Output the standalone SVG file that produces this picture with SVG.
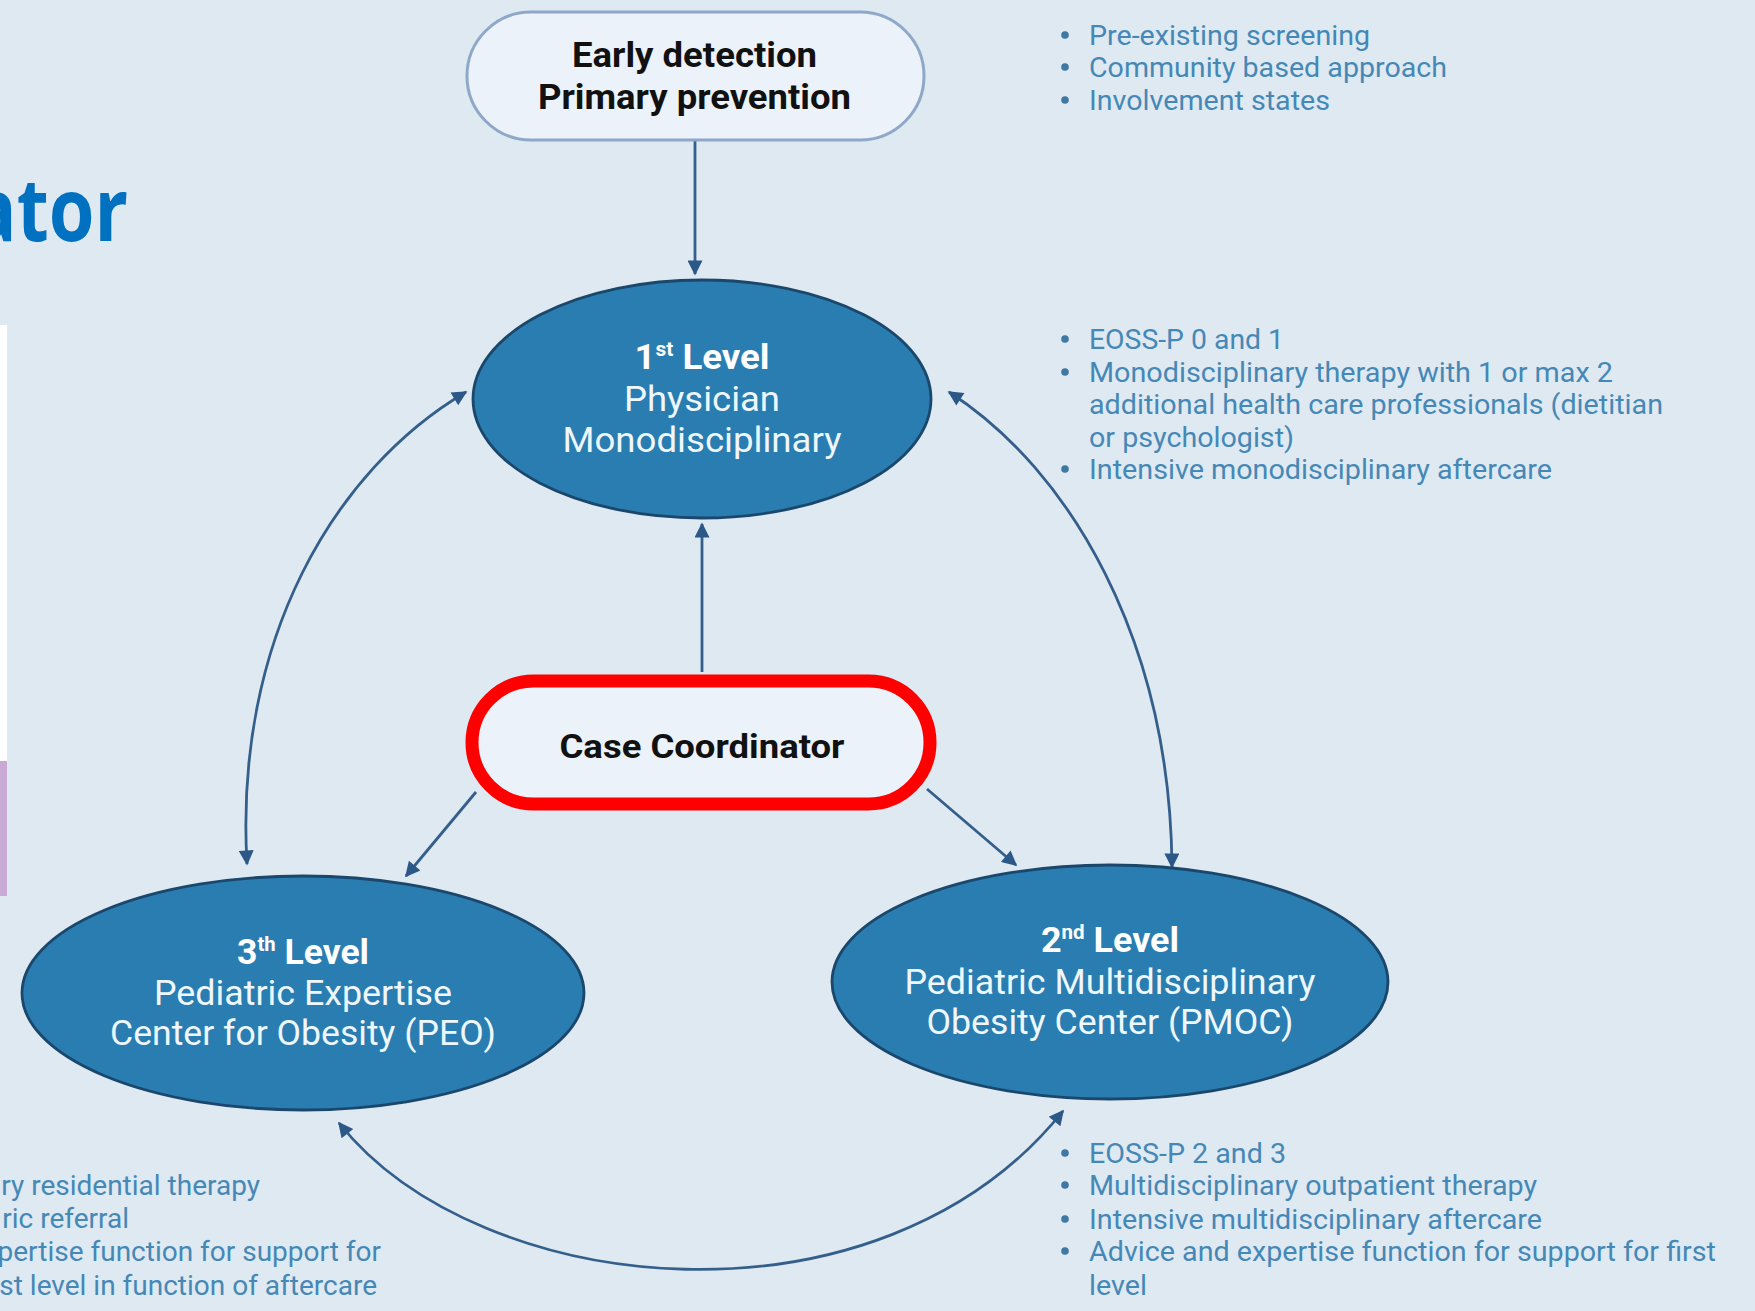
<svg xmlns="http://www.w3.org/2000/svg" width="1755" height="1311" viewBox="0 0 1755 1311">
  <defs>
    <marker id="head" viewBox="0 0 10 10" refX="9" refY="5" markerUnits="userSpaceOnUse" markerWidth="17" markerHeight="15" orient="auto-start-reverse">
      <path d="M0,0 L10,5 L0,10 z" fill="#2b5886"/>
    </marker>
    <style>
      .bg { fill: #dfe9f2; }
      .pill { fill: #ebf2fa; }
      .level { fill: #2a7db0; stroke: #1a476b; stroke-width: 2.8; }
      .dark { font-family: Roboto, "Liberation Sans", sans-serif; font-weight: 700; fill: #111; text-anchor: middle; }
      .lt { font-family: Roboto, "Liberation Sans", sans-serif; font-size: 35px; fill: #eef7fc; text-anchor: middle; }
      .lt .b { font-weight: 700; fill: #ffffff; }
      .note { font-family: Roboto, "Liberation Sans", sans-serif; font-size: 28px; fill: #4588b6; }
      .dot { fill: #3f78a2; }
      .link { fill: none; stroke: #355f8b; stroke-width: 2.8; }
      .one { marker-end: url(#head); }
      .two { marker-start: url(#head); marker-end: url(#head); }
    </style>
  </defs>

  <rect class="bg" x="0" y="0" width="1755" height="1311"/>

  <!-- slide edge fragments on the left -->
  <rect x="0" y="325" width="7" height="436" fill="#ffffff"/>
  <rect x="0" y="761" width="7" height="135" fill="#c9aad4"/>

  <!-- slide title fragment -->
  <text x="-28" y="241" font-family="'Open Sans', 'Liberation Sans', sans-serif" font-weight="700" font-size="88" fill="#0070c0" textLength="156" lengthAdjust="spacingAndGlyphs">ator</text>

  <!-- connectors -->
  <g id="connectors">
    <path class="link one" d="M695 141 L695 274"/>
    <path class="link one" d="M702 672 L702 524"/>
    <path class="link two" d="M466 392 C 334 470, 234 640, 247 864"/>
    <path class="link two" d="M949 392 C 1070 470, 1170 640, 1172 867"/>
    <path class="link two" d="M339 1123 C 480 1300, 880 1340, 1063 1111"/>
    <path class="link one" d="M476 792 L406 876"/>
    <path class="link one" d="M927 789 L1016 865"/>
  </g>

  <!-- entry point -->
  <g id="early">
    <rect class="pill" x="467" y="12" width="457" height="128" rx="64" stroke="#8fa8c8" stroke-width="3"/>
    <text class="dark" x="694.5" y="67" font-size="35" textLength="245" lengthAdjust="spacingAndGlyphs">Early detection</text>
    <text class="dark" x="694.5" y="109" font-size="35" textLength="313" lengthAdjust="spacingAndGlyphs">Primary prevention</text>
  </g>

  <!-- first level -->
  <g id="level1">
    <ellipse class="level" cx="702" cy="399" rx="229" ry="119"/>
    <text class="lt" x="702" y="369" textLength="135" lengthAdjust="spacingAndGlyphs"><tspan class="b">1</tspan><tspan class="b" font-size="20" dy="-13">st</tspan><tspan class="b" dy="13"> Level</tspan></text>
    <text class="lt" x="702" y="411" textLength="156" lengthAdjust="spacingAndGlyphs">Physician</text>
    <text class="lt" x="702" y="452" textLength="279" lengthAdjust="spacingAndGlyphs">Monodisciplinary</text>
  </g>

  <!-- coordinator -->
  <g id="coordinator">
    <rect class="pill" x="472" y="681" width="458" height="123" rx="61.5" stroke="#ff0000" stroke-width="13"/>
    <text class="dark" x="702" y="758" font-size="33" textLength="285" lengthAdjust="spacingAndGlyphs">Case Coordinator</text>
  </g>

  <!-- third level -->
  <g id="level3">
    <ellipse class="level" cx="303" cy="993" rx="281" ry="117"/>
    <text class="lt" x="303" y="964" textLength="132" lengthAdjust="spacingAndGlyphs"><tspan class="b">3</tspan><tspan class="b" font-size="20" dy="-13">th</tspan><tspan class="b" dy="13"> Level</tspan></text>
    <text class="lt" x="303" y="1005" textLength="298" lengthAdjust="spacingAndGlyphs">Pediatric Expertise</text>
    <text class="lt" x="303" y="1045" textLength="386" lengthAdjust="spacingAndGlyphs">Center for Obesity (PEO)</text>
  </g>

  <!-- second level -->
  <g id="level2">
    <ellipse class="level" cx="1110" cy="982" rx="278" ry="117"/>
    <text class="lt" x="1110" y="952" textLength="138" lengthAdjust="spacingAndGlyphs"><tspan class="b">2</tspan><tspan class="b" font-size="20" dy="-13">nd</tspan><tspan class="b" dy="13"> Level</tspan></text>
    <text class="lt" x="1110" y="994" textLength="411" lengthAdjust="spacingAndGlyphs">Pediatric Multidisciplinary</text>
    <text class="lt" x="1110" y="1034" textLength="367" lengthAdjust="spacingAndGlyphs">Obesity Center (PMOC)</text>
  </g>

  <!-- notes: entry point -->
  <g id="notes-early">
    <circle class="dot" cx="1065" cy="35" r="3.8"/>
    <circle class="dot" cx="1065" cy="67" r="3.8"/>
    <circle class="dot" cx="1065" cy="100" r="3.8"/>
    <text class="note" x="1089" y="45" textLength="281" lengthAdjust="spacingAndGlyphs">Pre-existing screening</text>
    <text class="note" x="1089" y="77" textLength="358" lengthAdjust="spacingAndGlyphs">Community based approach</text>
    <text class="note" x="1089" y="110" textLength="241" lengthAdjust="spacingAndGlyphs">Involvement states</text>
  </g>

  <!-- notes: first level -->
  <g id="notes-level1">
    <circle class="dot" cx="1065" cy="339" r="3.8"/>
    <circle class="dot" cx="1065" cy="372" r="3.8"/>
    <circle class="dot" cx="1065" cy="469" r="3.8"/>
    <text class="note" x="1089" y="349" textLength="195" lengthAdjust="spacingAndGlyphs">EOSS-P 0 and 1</text>
    <text class="note" x="1089" y="382" textLength="524" lengthAdjust="spacingAndGlyphs">Monodisciplinary therapy with 1 or max 2</text>
    <text class="note" x="1089" y="414" textLength="574" lengthAdjust="spacingAndGlyphs">additional health care professionals (dietitian</text>
    <text class="note" x="1089" y="447" textLength="205" lengthAdjust="spacingAndGlyphs">or psychologist)</text>
    <text class="note" x="1089" y="479" textLength="463" lengthAdjust="spacingAndGlyphs">Intensive monodisciplinary aftercare</text>
  </g>

  <!-- notes: second level -->
  <g id="notes-level2">
    <circle class="dot" cx="1065" cy="1153" r="3.8"/>
    <circle class="dot" cx="1065" cy="1185" r="3.8"/>
    <circle class="dot" cx="1065" cy="1219" r="3.8"/>
    <circle class="dot" cx="1065" cy="1251" r="3.8"/>
    <text class="note" x="1089" y="1163" textLength="197" lengthAdjust="spacingAndGlyphs">EOSS-P 2 and 3</text>
    <text class="note" x="1089" y="1195" textLength="448" lengthAdjust="spacingAndGlyphs">Multidisciplinary outpatient therapy</text>
    <text class="note" x="1089" y="1229" textLength="453" lengthAdjust="spacingAndGlyphs">Intensive multidisciplinary aftercare</text>
    <text class="note" x="1089" y="1261" textLength="627" lengthAdjust="spacingAndGlyphs">Advice and expertise function for support for first</text>
    <text class="note" x="1089" y="1295" textLength="58" lengthAdjust="spacingAndGlyphs">level</text>
  </g>

  <!-- notes: third level -->
  <g id="notes-level3">
    <text class="note" x="260" y="1195" text-anchor="end">ry residential therapy</text>
    <text class="note" x="129" y="1228" text-anchor="end">ric referral</text>
    <text class="note" x="381" y="1261" text-anchor="end">pertise function for support for</text>
    <text class="note" x="377" y="1295" text-anchor="end">st level in function of aftercare</text>
  </g>
</svg>
